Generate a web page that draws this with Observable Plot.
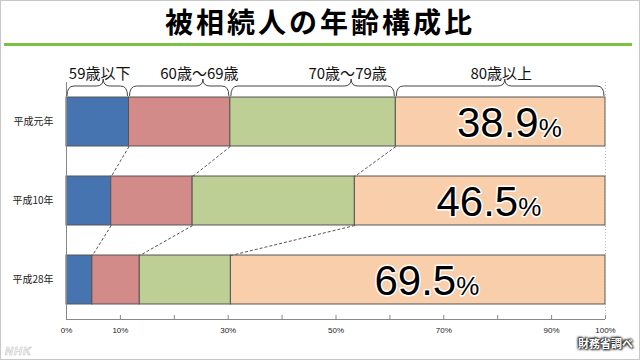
<!DOCTYPE html>
<html>
<head>
<meta charset="utf-8">
<script src="https://cdn.jsdelivr.net/npm/d3@7"></script>
<script src="https://cdn.jsdelivr.net/npm/@observablehq/plot@0.6"></script>
<style>
  body { margin: 0; background: #fff; }
  #wrap { position: relative; width: 640px; height: 360px; overflow: hidden; background: #fff;
          font-family: "Noto Sans CJK JP", "Noto Sans", sans-serif; }
  #title { position: absolute; left: 0; top: 7px; width: 640px; text-align: center; font-size: 28px;
           line-height: 28px; font-weight: bold; letter-spacing: 3px; color: #000; }
  #rule { position: absolute; left: 4px; top: 43px; width: 628px; height: 3px; background: #7cc242; }
  #chart { position: absolute; left: 0; top: 55px; }
  #src { position: absolute; right: 7px; top: 337px; font-size: 11px; line-height: 12px; font-weight: bold;
         color: #fff; text-shadow: 0 0 2px #222, 0 0 3px #222, 1px 1px 2px #222, -1px -1px 2px #222; }
  #nhk { position: absolute; left: 5px; top: 345px; font-size: 11px; line-height: 12px; font-weight: bold;
         font-style: italic; color: #fff; -webkit-text-stroke: 0.6px #c4c4c4; font-family: "Liberation Sans", sans-serif; letter-spacing: 1px; }
  #border { position: absolute; left: 0; top: 0; width: 640px; height: 360px; box-sizing: border-box;
            border: 1px solid #c8c8c8; pointer-events: none; }
</style>
</head>
<body>
<div id="wrap">
  <div id="title">被相続人の年齢構成比</div>
  <div id="rule"></div>
  <div id="chart"></div>
  <div id="src">財務省調べ</div>
  <div id="nhk">NHK</div>
  <div id="border"></div>
</div>
<script>
// ---- data ----
const years = ["平成元年", "平成10年", "平成28年"];
const ageGroups = ["59歳以下", "60歳～69歳", "70歳～79歳", "80歳以上"];
const under60 = [11.6, 8.3, 4.8];
const age60s  = [18.8, 15.1, 8.8];
const age70s  = [30.7, 30.1, 16.9];
const over80  = [38.9, 46.5, 69.5];
const braceLabelAt = [6.9, 25.4, 52.9, 81.4];   // where each bracket peaks / its label sits (% axis)
const tickValues = [0, 10, 20, 30, 40, 50, 60, 70, 80, 90, 100];
const tickLabels = [0, 10, 30, 50, 70, 90, 100];

// ---- styles ----
const palette = ["#4674b0", "#d38b89", "#bdcf95", "#f9cfab"];

// ---- derived table ----
const series = [under60, age60s, age70s, over80];
const table = years.flatMap((yr, i) => {
  let c = 0;
  return ageGroups.map((g, k) => {
    const v = series[k][i];
    const d = {row: i, year: yr, group: g, k, value: v, x1: c, x2: c + v};
    c += v;
    return d;
  });
});
const half = 0.31; // half bar thickness in row units
const links = [];
for (let i = 0; i < years.length - 1; i++) {
  for (let k = 0; k < ageGroups.length - 1; k++) {
    const a = table.find(d => d.row === i && d.k === k);
    const b = table.find(d => d.row === i + 1 && d.k === k);
    links.push({x1: a.x2, y1: i + half, x2: b.x2, y2: i + 1 - half});
  }
}
const firstRow = table.filter(d => d.row === 0).map(d => ({...d, peak: braceLabelAt[d.k]}));
const oldest = table.filter(d => d.k === ageGroups.length - 1);

function braces(index, scales) {
  const g = d3.create("svg:g").attr("fill", "none").attr("stroke", "#444").attr("stroke-width", 1);
  const yb = scales.y(-half) - 1;
  const ym = yb - 10, yt = yb - 17, r = 7;
  for (const d of firstRow) {
    const a = scales.x(d.x1) + 1, b = scales.x(d.x2) - 1, p = scales.x(d.peak);
    const path = `M${a},${yb} Q${a},${ym} ${a + r},${ym} L${p - r},${ym} Q${p},${ym} ${p},${yt} ` +
                 `Q${p},${ym} ${p + r},${ym} L${b - r},${ym} Q${b},${ym} ${b},${yb}`;
    g.append("path").attr("d", path);
  }
  return g.node();
}

const chart = Plot.plot({
  width: 640,
  height: 305,
  marginLeft: 66,
  marginRight: 35,
  marginTop: 27,
  marginBottom: 41,
  style: {fontFamily: "'Noto Sans CJK JP', sans-serif", color: "#222", background: "transparent", overflow: "visible"},
  x: {domain: [0, 100]},
  y: {domain: [-0.5, 2.5], reverse: true},
  color: {domain: ageGroups, range: palette},
  marks: [
    Plot.rect(table, {x1: "x1", x2: "x2", y1: d => d.row - half, y2: d => d.row + half,
                      fill: "group", stroke: "#555", strokeWidth: 1}),
    Plot.link(links, {x1: "x1", y1: "y1", x2: "x2", y2: "y2", stroke: "#555", strokeDasharray: "3,2", strokeWidth: 1}),
    Plot.ruleX([0], {stroke: "#888"}),
    Plot.ruleX([100], {stroke: "#bbb", strokeDasharray: "1,2"}),
    Plot.ruleY([2.5], {stroke: "#888"}),
    Plot.tickX(tickValues, {x: d => d, insetTop: 233, stroke: "#888"}),
    Plot.axisX({ticks: tickValues, tickFormat: d => tickLabels.includes(d) ? d + "%" : "", tickSize: 0,
                tickPadding: 8, fontSize: 8, fontFamily: "'Liberation Sans Narrow', 'Liberation Sans', sans-serif", label: null}),
    Plot.axisY({ticks: [0, 1, 2], tickFormat: i => years[i], tickSize: 0, tickPadding: 13, fontSize: 10, label: null}),
    braces,
    Plot.text(firstRow, {x: "peak", frameAnchor: "top", dx: -4, dy: -14, text: "group", fontSize: 15, fill: "#111"}),
    Plot.text(oldest, {x: d => (d.x1 + d.x2) / 2, y: "row", text: d => d.value.toFixed(1), textAnchor: "end",
                       dx: 38, dy: 2, fontSize: 42, fontFamily: "'Liberation Sans', sans-serif",
                       fill: "#000", stroke: "#fff", strokeWidth: 3, paintOrder: "stroke"}),
    Plot.text(oldest, {x: d => (d.x1 + d.x2) / 2, y: "row", text: () => "%", textAnchor: "start",
                       dx: 38, dy: 7, fontSize: 26, fontFamily: "'Liberation Sans', sans-serif",
                       fill: "#000", stroke: "#fff", strokeWidth: 3, paintOrder: "stroke"})
  ]
});
document.getElementById("chart").appendChild(chart);
</script>
</body>
</html>
